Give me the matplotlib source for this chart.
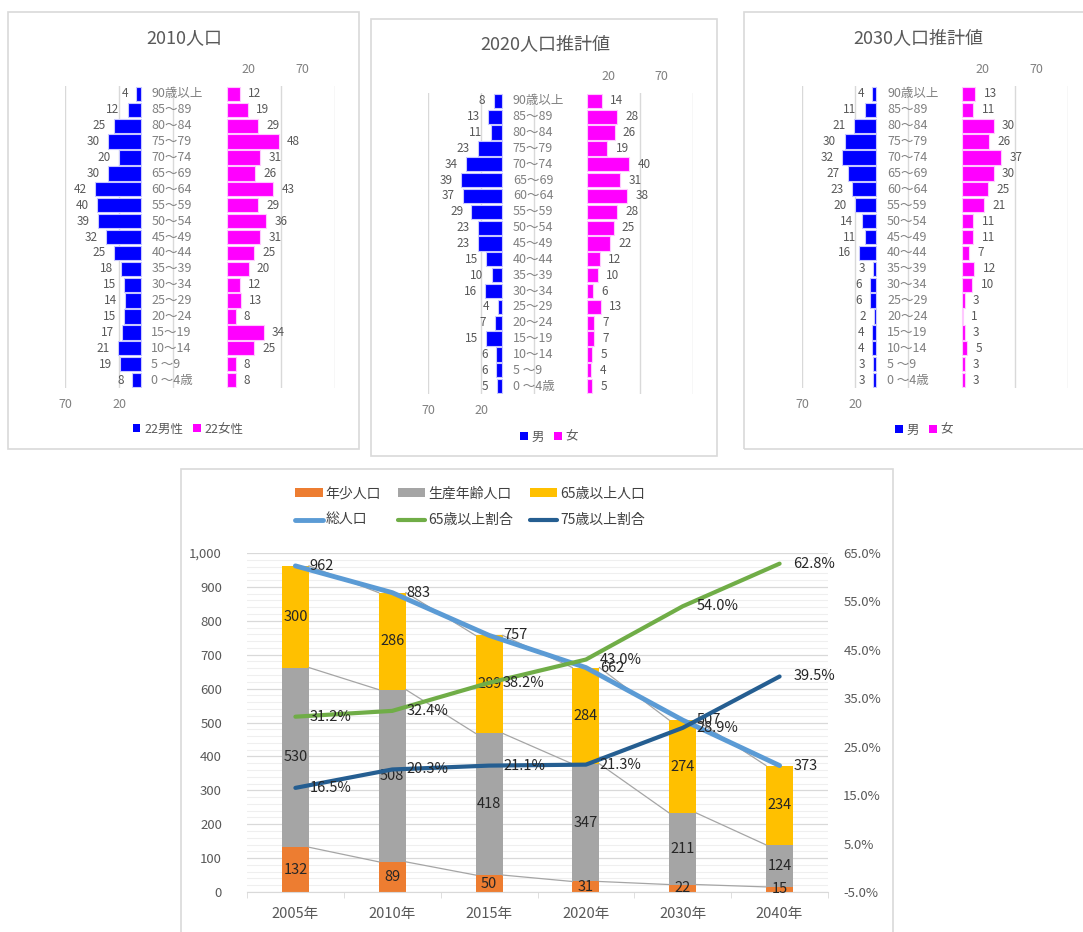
import numpy as np
import matplotlib
matplotlib.use('Agg')
import matplotlib.pyplot as plt
from matplotlib.patches import Patch, Rectangle
from matplotlib.ticker import FuncFormatter, MultipleLocator, FixedLocator

plt.rcParams['font.family'] = ['Noto Sans CJK JP', 'DejaVu Sans']

# age groups, oldest first (top of the pyramid)
AGES = ['90歳以上', '85～89', '80～84', '75～79', '70～74', '65～69', '60～64',
        '55～59', '50～54', '45～49', '40～44', '35～39', '30～34', '25～29',
        '20～24', '15～19', '10～14', '5 ～9', '0 ～4歳']

MALE_2010 = [4, 12, 25, 30, 20, 30, 42, 40, 39, 32, 25, 18, 15, 14, 15, 17, 21, 19, 8]
FEMALE_2010 = [12, 19, 29, 48, 31, 26, 43, 29, 36, 31, 25, 20, 12, 13, 8, 34, 25, 8, 8]
MALE_2020 = [8, 13, 11, 23, 34, 39, 37, 29, 23, 23, 15, 10, 16, 4, 7, 15, 6, 6, 5]
FEMALE_2020 = [14, 28, 26, 19, 40, 31, 38, 28, 25, 22, 12, 10, 6, 13, 7, 7, 5, 4, 5]
MALE_2030 = [4, 11, 21, 30, 32, 27, 23, 20, 14, 11, 16, 3, 6, 6, 2, 4, 4, 3, 3]
FEMALE_2030 = [13, 11, 30, 26, 37, 30, 25, 21, 11, 11, 7, 12, 10, 3, 1, 3, 5, 3, 3]

YEARS = ['2005年', '2010年', '2015年', '2020年', '2030年', '2040年']
YOUNG = [132, 89, 50, 31, 22, 15]
WORKING = [530, 508, 418, 347, 211, 124]
ELDERLY = [300, 286, 289, 284, 274, 234]
TOTAL = [962, 883, 757, 662, 507, 373]
RATIO_65 = [31.2, 32.4, 38.2, 43.0, 54.0, 62.8]
RATIO_75 = [16.5, 20.3, 21.1, 21.3, 28.9, 39.5]

W, H = 1083, 932
fig = plt.figure(figsize=(W / 100, H / 100), dpi=100)


def px_box(l, t, r, b):
    return [l / W, 1 - b / H, (r - l) / W, (b - t) / H]


def frame(l, t, r, b):
    fig.add_artist(Rectangle((l / W, 1 - b / H), (r - l) / W, (b - t) / H,
                             transform=fig.transFigure, fill=False,
                             ec='#d9d9d9', lw=1.2))


def pyramid(plot, male, female, title, title_xy, legend_labels, legend_xy):
    ax = fig.add_axes(px_box(*plot))
    y = np.arange(len(AGES))
    ax.set_xlim(70, -180)
    ax.set_ylim(len(AGES) - 0.5, -0.5)
    ax.set_xticks([70, 20, -30, -130, -180])
    ax.set_xticklabels(['70', '20', '', '', ''])
    ax.set_yticks([])
    ax.grid(axis='x', color='#d9d9d9', lw=1)
    ax.set_axisbelow(True)
    ax.tick_params(axis='x', length=0, pad=7, labelsize=9, labelcolor='#808080')
    for s in ax.spines.values():
        s.set_visible(False)

    ax2 = ax.twiny()
    ax2.set_xlim(-150, 100)
    ax2.set_xticks([20, 70])
    ax2.tick_params(axis='x', length=0, pad=7, labelsize=9, labelcolor='#808080')
    for s in ax2.spines.values():
        s.set_visible(False)

    ax.barh(y, male, height=0.9, color='#0000ff', edgecolor='#c8c8ff', lw=0.8)
    ax2.barh(y, female, height=0.9, color='#ff00ff', edgecolor='#ffc8ff', lw=0.8)

    for i in y:
        ax.annotate(str(male[i]), (male[i], i), xytext=(-6, 0), textcoords='offset points',
                    ha='right', va='center', fontsize=8.5, color='#595959')
        ax2.annotate(str(female[i]), (female[i], i), xytext=(6, 0), textcoords='offset points',
                     ha='left', va='center', fontsize=8.5, color='#595959')
        ax.text(-10, i, AGES[i], ha='left', va='center', fontsize=9, color='#808080')

    fig.text(title_xy[0] / W, 1 - title_xy[1] / H, title, ha='center', va='center',
             fontsize=13, color='#595959')
    fig.legend(handles=[Patch(fc='#0000ff'), Patch(fc='#ff00ff')], labels=legend_labels,
               loc='center', bbox_to_anchor=(legend_xy[0] / W, 1 - legend_xy[1] / H),
               ncol=2, frameon=False, fontsize=9, labelcolor='#595959',
               handlelength=0.6, handleheight=0.6, handletextpad=0.3,
               columnspacing=0.8, borderpad=0)


frame(8, 12, 359, 449)
frame(371, 19, 717, 456)
frame(744, 12, 1090, 449)
frame(181, 469, 893, 940)

pyramid((65, 86, 335, 388), MALE_2010, FEMALE_2010, '2010人口', (184, 38),
        ['22男性', '22女性'], (188, 429))
pyramid((428, 93, 693, 394), MALE_2020, FEMALE_2020, '2020人口推計値', (545, 44),
        ['男', '女'], (549, 437))
pyramid((802, 86, 1068, 388), MALE_2030, FEMALE_2030, '2030人口推計値', (918, 38),
        ['男', '女'], (924, 430))

# stacked population columns with total and ageing ratios
ax = fig.add_axes(px_box(247, 553, 828, 892))
x = np.arange(len(YEARS))
w = 0.28
young = np.array(YOUNG)
working = np.array(WORKING)
elderly = np.array(ELDERLY)

ax.set_xlim(-0.5, len(YEARS) - 0.5)
ax.set_ylim(0, 1000)
ax.yaxis.set_major_locator(MultipleLocator(100))
ax.yaxis.set_minor_locator(MultipleLocator(20))
ax.yaxis.set_major_formatter(FuncFormatter(lambda v, p: f'{v:,.0f}'))
ax.grid(axis='y', which='minor', color='#efefef', lw=0.8)
ax.grid(axis='y', which='major', color='#d9d9d9', lw=0.9)
ax.set_axisbelow(True)
ax.set_xticks(x)
ax.set_xticklabels(YEARS)
ax.set_xticks(np.arange(len(YEARS) + 1) - 0.5, minor=True)
ax.tick_params(axis='x', which='major', length=0, pad=11, labelsize=10.5, labelcolor='#595959')
ax.tick_params(axis='x', which='minor', length=4, color='#d9d9d9')
ax.tick_params(axis='y', which='both', length=0, pad=18, labelsize=9.5, labelcolor='#595959')
for s in ['top', 'left', 'right']:
    ax.spines[s].set_visible(False)
ax.spines['bottom'].set_color('#d9d9d9')

b1 = ax.bar(x, young, w, color='#ed7d31', label='年少人口', zorder=2)
b2 = ax.bar(x, working, w, bottom=young, color='#a5a5a5', label='生産年齢人口', zorder=2)
b3 = ax.bar(x, elderly, w, bottom=young + working, color='#ffc000', label='65歳以上人口', zorder=2)

# series lines joining the segment tops
for tops in [young, young + working, young + working + elderly]:
    for i in range(len(x) - 1):
        ax.plot([x[i] + w / 2, x[i + 1] - w / 2], [tops[i], tops[i + 1]],
                color='#a5a5a5', lw=0.9, zorder=2)

for bottoms, vals in [(0, young), (young, working), (young + working, elderly)]:
    centers = bottoms + vals / 2
    for i in x:
        ax.text(x[i], centers[i], str(vals[i]), ha='center', va='center',
                fontsize=10.5, color='#262626', zorder=4)

l_total, = ax.plot(x, TOTAL, color='#5b9bd5', lw=3.5, solid_capstyle='round',
                   label='総人口', zorder=3)
for i in x:
    ax.annotate(str(TOTAL[i]), (x[i], TOTAL[i]), xytext=(10, 0), textcoords='offset points',
                ha='left', va='center', fontsize=10.5, color='#262626', zorder=4)

axr = ax.twinx()
axr.set_ylim(-5, 65)
axr.yaxis.set_major_locator(FixedLocator(np.arange(-5, 66, 10)))
axr.yaxis.set_major_formatter(FuncFormatter(lambda v, p: f'{v:.1f}%'))
axr.tick_params(axis='y', length=0, pad=11, labelsize=9.5, labelcolor='#595959')
for s in axr.spines.values():
    s.set_visible(False)

l65, = axr.plot(x, RATIO_65, color='#70ad47', lw=3, solid_capstyle='round', label='65歳以上割合')
l75, = axr.plot(x, RATIO_75, color='#255e91', lw=3, solid_capstyle='round', label='75歳以上割合')
for series in [RATIO_65, RATIO_75]:
    for i in x:
        axr.annotate(f'{series[i]:.1f}%', (x[i], series[i]), xytext=(10, 0),
                     textcoords='offset points', ha='left', va='center',
                     fontsize=10.5, color='#262626')

handles = [b1, l_total, b2, l65, b3, l75]
labels = [h.get_label() for h in handles]
fig.legend(handles=handles, labels=labels, loc='center',
           bbox_to_anchor=(470 / W, 1 - 507 / H), ncol=3, frameon=False,
           fontsize=10, labelcolor='#404040', handlelength=2.0, handleheight=0.6,
           handletextpad=0.2, columnspacing=1.2, labelspacing=0.9, borderpad=0)

fig.savefig('out.png', dpi=100)
